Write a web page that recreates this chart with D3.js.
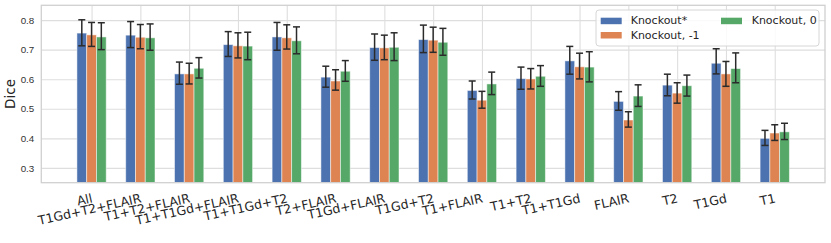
<!DOCTYPE html>
<html>
<head>
<meta charset="utf-8">
<script src="https://cdn.jsdelivr.net/npm/d3@7"></script>
<style>
  html, body { margin: 0; padding: 0; background: #fff; }
  svg { display: block; font-family: "DejaVu Sans", sans-serif; }
</style>
</head>
<body>
<svg id="chart" width="831" height="243"></svg>
<script>
const categories = ["All","T1Gd+T2+FLAIR","T1+T2+FLAIR","T1+T1Gd+FLAIR","T1+T1Gd+T2","T2+FLAIR","T1Gd+FLAIR","T1Gd+T2","T1+FLAIR","T1+T2","T1+T1Gd","FLAIR","T2","T1Gd","T1"];
const seriesNames = ["Knockout*", "Knockout, -1", "Knockout, 0"];

const knockoutStar = [0.756,0.749,0.618,0.717,0.743,0.607,0.707,0.734,0.562,0.602,0.662,0.525,0.580,0.654,0.400];
const knockoutStarLo = [0.713,0.707,0.583,0.677,0.698,0.573,0.664,0.690,0.533,0.566,0.617,0.495,0.544,0.618,0.376];
const knockoutStarHi = [0.801,0.795,0.658,0.761,0.792,0.644,0.753,0.783,0.594,0.641,0.711,0.558,0.617,0.703,0.427];

const knockoutM1 = [0.750,0.742,0.618,0.713,0.740,0.594,0.706,0.732,0.529,0.601,0.642,0.462,0.553,0.618,0.418];
const knockoutM1Lo = [0.711,0.703,0.584,0.672,0.702,0.563,0.666,0.691,0.502,0.567,0.601,0.438,0.519,0.576,0.393];
const knockoutM1Hi = [0.792,0.785,0.654,0.757,0.784,0.632,0.749,0.776,0.559,0.636,0.688,0.490,0.588,0.660,0.446];

const knockout0 = [0.743,0.740,0.637,0.712,0.730,0.627,0.708,0.725,0.584,0.610,0.641,0.543,0.578,0.636,0.422];
const knockout0Lo = [0.700,0.698,0.604,0.666,0.686,0.593,0.663,0.681,0.548,0.576,0.591,0.508,0.543,0.588,0.396];
const knockout0Hi = [0.791,0.787,0.673,0.759,0.777,0.663,0.757,0.772,0.624,0.646,0.693,0.581,0.614,0.689,0.451];

const yTicks = [0.3, 0.4, 0.5, 0.6, 0.7, 0.8];
const colors = ["#4C72B0", "#DD8452", "#55A868"];

const series = [
  { name: seriesNames[0], values: knockoutStar, lo: knockoutStarLo, hi: knockoutStarHi, color: colors[0] },
  { name: seriesNames[1], values: knockoutM1, lo: knockoutM1Lo, hi: knockoutM1Hi, color: colors[1] },
  { name: seriesNames[2], values: knockout0, lo: knockout0Lo, hi: knockout0Hi, color: colors[2] }
];

const svg = d3.select("#chart");
const W = 831, H = 243;
const m = { left: 41.3, right: 6, top: 5.3, bottom: 60.3 };
const x0 = 41.3, x1 = W - m.right, yTop = m.top, yBot = H - m.bottom;

const x = d3.scalePoint().domain(categories).range([x0, x1]).padding(1.03);
const step = x.step();
const xs = d3.scaleBand().domain(seriesNames).range([-0.3 * step, 0.3 * step]);
const y = d3.scaleLinear().domain([0.25, 0.85]).range([yBot, yTop]);

const gridColor = "#dedede";

// horizontal grid + y labels
const yAxis = d3.axisLeft(y).tickValues(yTicks).tickFormat(d3.format(".1f")).tickSize(-(x1 - x0)).tickPadding(7);
const gy = svg.append("g").attr("transform", `translate(${x0},0)`).call(yAxis);
gy.select(".domain").remove();
gy.selectAll(".tick line").attr("stroke", gridColor).attr("stroke-width", 1.1);
gy.selectAll(".tick text").attr("fill", "#333").style("font-size", "9.8px");

// vertical grid
const xAxis = d3.axisBottom(x).tickSize(-(yBot - yTop)).tickFormat("");
const gx = svg.append("g").attr("transform", `translate(0,${yBot})`).call(xAxis);
gx.select(".domain").remove();
gx.selectAll(".tick line").attr("stroke", gridColor).attr("stroke-width", 1.1);

// bars
const gBars = svg.append("g");
series.forEach(s => {
  gBars.selectAll(null).data(categories).enter().append("rect")
    .attr("x", (c) => x(c) + xs(s.name))
    .attr("width", xs.bandwidth())
    .attr("y", (c, i) => y(s.values[i]))
    .attr("height", (c, i) => yBot - y(s.values[i]))
    .attr("fill", s.color)
    .attr("stroke", "#ffffff")
    .attr("stroke-opacity", 0.55)
    .attr("stroke-width", 0.9);
});

// error bars
const gErr = svg.append("g").attr("stroke", "#2b2b2b").attr("stroke-width", 1.5);
series.forEach(s => {
  categories.forEach((c, i) => {
    const cx = x(c) + xs(s.name) + xs.bandwidth() / 2;
    const cap = 3.5;
    gErr.append("line").attr("x1", cx).attr("x2", cx).attr("y1", y(s.lo[i])).attr("y2", y(s.hi[i]));
    gErr.append("line").attr("x1", cx - cap).attr("x2", cx + cap).attr("y1", y(s.lo[i])).attr("y2", y(s.lo[i]));
    gErr.append("line").attr("x1", cx - cap).attr("x2", cx + cap).attr("y1", y(s.hi[i])).attr("y2", y(s.hi[i]));
  });
});

// frame
svg.append("rect").attr("x", x0).attr("y", yTop).attr("width", x1 - x0).attr("height", yBot - yTop)
  .attr("fill", "none").attr("stroke", "#d0d0d0").attr("stroke-width", 1.3);

// x labels
svg.append("g").selectAll("text").data(categories).enter().append("text")
  .attr("transform", c => `translate(${x(c) - 0.5},${yBot + 10.5}) rotate(-12.5)`)
  .attr("text-anchor", "end")
  .attr("dy", "0.74em")
  .attr("fill", "#262626")
  .style("font-size", "12.5px")
  .text(c => c);

// y label
svg.append("text")
  .attr("transform", `translate(15,${(yTop + yBot) / 2}) rotate(-90)`)
  .attr("text-anchor", "middle")
  .attr("fill", "#262626")
  .style("font-size", "13.5px")
  .text("Dice");

// legend
const lg = svg.append("g");
lg.append("rect").attr("x", 596).attr("y", 10).attr("width", 223).attr("height", 36)
  .attr("rx", 3).attr("fill", "#fff").attr("fill-opacity", 0.85)
  .attr("stroke", "#d6d6d6").attr("stroke-width", 1);
const legPos = [
  { px: 600.7, py: 17.7, tx: 630.7, ty: 20.5 },
  { px: 600.7, py: 32.0, tx: 630.7, ty: 35.0 },
  { px: 721, py: 17.7, tx: 751.7, ty: 20.5 }
];
series.forEach((s, i) => {
  const p = legPos[i];
  lg.append("rect").attr("x", p.px).attr("y", p.py).attr("width", 21).attr("height", 6.5).attr("fill", s.color);
  lg.append("text").attr("x", p.tx).attr("y", p.ty).attr("dy", "0.35em")
    .attr("fill", "#262626").style("font-size", "11px").text(s.name);
});
</script>
</body>
</html>
